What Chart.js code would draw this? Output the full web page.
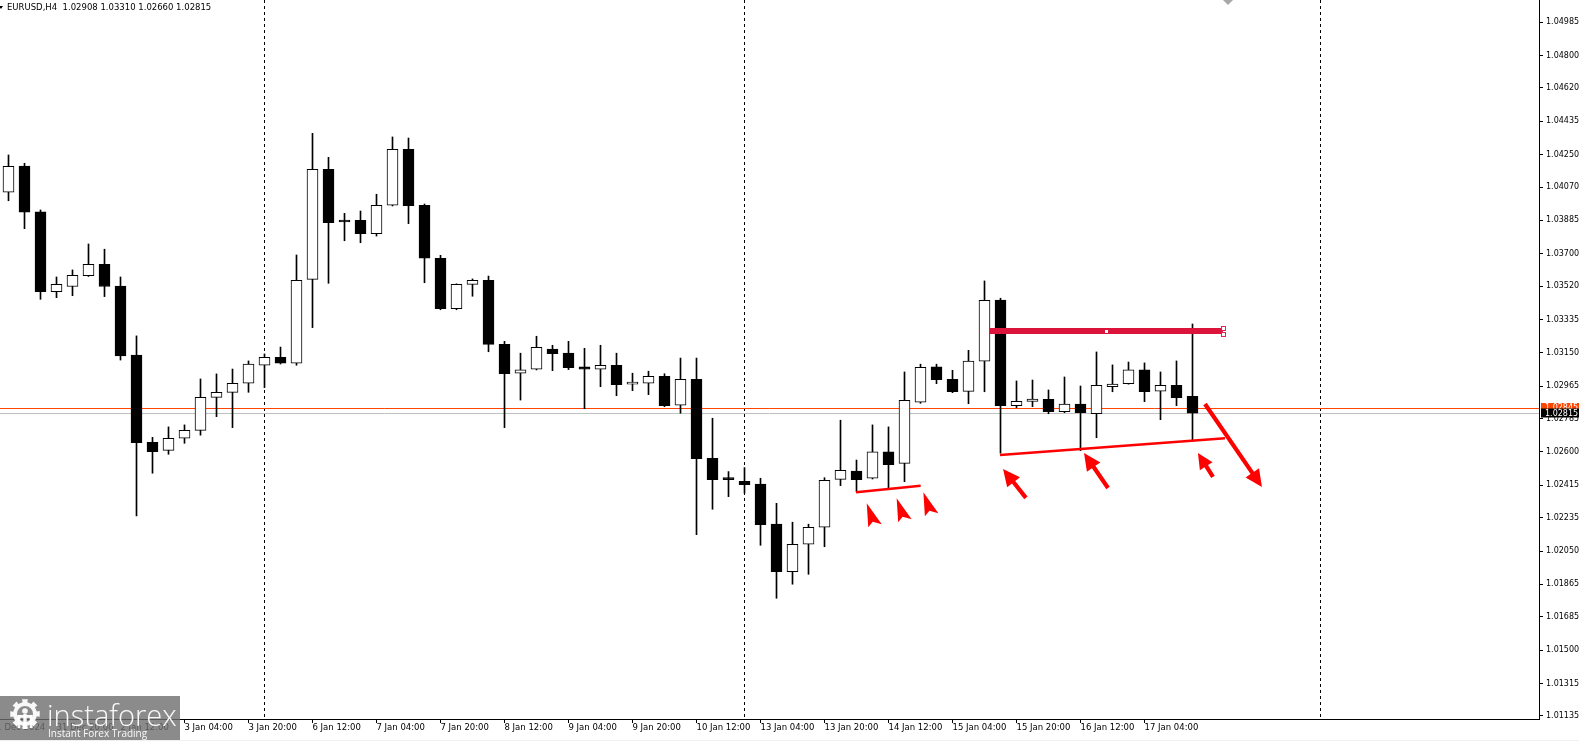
<!DOCTYPE html>
<html>
<head>
<meta charset="utf-8">
<title>EURUSD,H4</title>
<script src="https://cdn.jsdelivr.net/npm/chart.js@4.4.1/dist/chart.umd.min.js"></script>
<style>
  html, body { margin: 0; padding: 0; background: #f0f0f0; }
  #wrap { width: 1579px; height: 740px; background: #ffffff; }
  canvas { display: block; }
</style>
</head>
<body>
<div id="wrap"><canvas id="myChart" width="1579" height="740"></canvas></div>
<script>
// EURUSD H4 candles, 31 Dec 08:00 .. 17 Jan 16:00
const opens = [
  1.04041, 1.04187, 1.03932, 1.03489, 1.03518, 1.03578, 1.03641, 1.03521, 1.03138, 1.02654,
  1.02609, 1.02676, 1.02720, 1.02903, 1.02931, 1.02981, 1.03081, 1.03125, 1.03092, 1.03558,
  1.04169, 1.03887, 1.03885, 1.03811, 1.03969, 1.04280, 1.03969, 1.03675, 1.03395, 1.03530,
  1.03553, 1.03197, 1.03037, 1.03059, 1.03171, 1.03148, 1.03072, 1.03059, 1.03081, 1.02976,
  1.02981, 1.03020, 1.02859, 1.03003, 1.02565, 1.02454, 1.02437, 1.02421, 1.02199, 1.01936,
  1.02088, 1.02182, 1.02448, 1.02494, 1.02454, 1.02600, 1.02537, 1.02876, 1.03072, 1.03003,
  1.02936, 1.03104, 1.03443, 1.02857, 1.02881, 1.02892, 1.02824, 1.02865, 1.02812, 1.02962,
  1.02979, 1.03055, 1.02937, 1.02970, 1.02908
];
const highs = [
  1.04248, 1.04202, 1.03943, 1.03571, 1.03610, 1.03754, 1.03725, 1.03571, 1.03244, 1.02681,
  1.02739, 1.02750, 1.03005, 1.03033, 1.03060, 1.03105, 1.03144, 1.03182, 1.03693, 1.04368,
  1.04235, 1.03924, 1.03937, 1.04030, 1.04348, 1.04342, 1.03976, 1.03691, 1.03533, 1.03560,
  1.03576, 1.03214, 1.03148, 1.03242, 1.03192, 1.03214, 1.03175, 1.03192, 1.03148, 1.03037,
  1.03048, 1.03034, 1.03121, 1.03121, 1.02787, 1.02491, 1.02513, 1.02454, 1.02315, 1.02210,
  1.02199, 1.02457, 1.02776, 1.02555, 1.02750, 1.02739, 1.03044, 1.03087, 1.03087, 1.03053,
  1.03164, 1.03549, 1.03453, 1.02994, 1.02999, 1.02944, 1.03016, 1.02966, 1.03155, 1.03083,
  1.03099, 1.03094, 1.03044, 1.03105, 1.03310
];
const lows = [
  1.03994, 1.03839, 1.03447, 1.03456, 1.03467, 1.03574, 1.03462, 1.03110, 1.02245, 1.02482,
  1.02587, 1.02648, 1.02693, 1.02796, 1.02735, 1.02931, 1.02957, 1.03088, 1.03081, 1.03290,
  1.03536, 1.03772, 1.03761, 1.03798, 1.03965, 1.03867, 1.03539, 1.03389, 1.03389, 1.03464,
  1.03156, 1.02735, 1.02888, 1.03055, 1.03051, 1.03057, 1.02840, 1.02962, 1.02912, 1.02940,
  1.02918, 1.02851, 1.02815, 1.02141, 1.02282, 1.02352, 1.02371, 1.02082, 1.01788, 1.01866,
  1.01921, 1.02074, 1.02413, 1.02380, 1.02450, 1.02396, 1.02435, 1.02870, 1.02979, 1.02929,
  1.02868, 1.02934, 1.02593, 1.02846, 1.02851, 1.02812, 1.02818, 1.02607, 1.02679, 1.02934,
  1.02976, 1.02879, 1.02779, 1.02857, 1.02660
];
const closes = [
  1.04185, 1.03930, 1.03489, 1.03530, 1.03580, 1.03641, 1.03518, 1.03133, 1.02651, 1.02602,
  1.02676, 1.02720, 1.02903, 1.02931, 1.02981, 1.03087, 1.03125, 1.03092, 1.03553, 1.04169,
  1.03872, 1.03876, 1.03811, 1.03969, 1.04280, 1.03967, 1.03675, 1.03395, 1.03530, 1.03553,
  1.03197, 1.03034, 1.03055, 1.03181, 1.03145, 1.03068, 1.03059, 1.03081, 1.02973, 1.02987,
  1.03020, 1.02857, 1.03003, 1.02563, 1.02446, 1.02446, 1.02418, 1.02196, 1.01936, 1.02088,
  1.02182, 1.02443, 1.02498, 1.02446, 1.02600, 1.02529, 1.02887, 1.03070, 1.03001, 1.02934,
  1.03104, 1.03442, 1.02857, 1.02881, 1.02894, 1.02824, 1.02865, 1.02818, 1.02970, 1.02976,
  1.03055, 1.02934, 1.02970, 1.02901, 1.02815
];

// time axis labels (bar index -> text)
const timeTickPos = [-1.1, 3, 7, 11, 15, 19, 23, 27, 31, 35, 39, 43, 47, 51, 55, 59, 63, 67, 71];
const timeTickText = ['31 Dec 2024', '31 Dec 20:00', '2 Jan 12:00', '3 Jan 04:00', '3 Jan 20:00',
  '6 Jan 12:00', '7 Jan 04:00', '7 Jan 20:00', '8 Jan 12:00', '9 Jan 04:00', '9 Jan 20:00',
  '10 Jan 12:00', '13 Jan 04:00', '13 Jan 20:00', '14 Jan 12:00', '15 Jan 04:00', '15 Jan 20:00',
  '16 Jan 12:00', '17 Jan 04:00'];

const priceTicks = [1.04985, 1.04800, 1.04620, 1.04435, 1.04250, 1.04070, 1.03885, 1.03700,
  1.03520, 1.03335, 1.03150, 1.02965, 1.02785, 1.02600, 1.02415, 1.02235, 1.02050, 1.01865,
  1.01685, 1.01500, 1.01315, 1.01135];

const bidPrice = 1.02815;
const askPrice = 1.02845;
const weekSeparators = [16, 46, 82];

// drawn objects, in bar index / price
const levelLine = [61.3, 75.9, 1.03271];
const trendLines = [[61.97, 1.02583, 76.03, 1.02676], [52.97, 1.02376, 57.01, 1.02413]];
const pointerTips = [[53.64, 1.02315], [55.51, 1.02343], [57.18, 1.02376]];
const arrowLines = [[63.59, 1.02345, 62.16, 1.02506], [68.72, 1.02400, 67.22, 1.02594],
  [75.28, 1.02461, 74.34, 1.02594], [74.78, 1.02866, 78.34, 1.02406]];
const topMarker = [76.22, 1.05108];

const header = 'EURUSD,H4  1.02908 1.03310 1.02660 1.02815';

function drawArrow(ctx, x1, y1, x2, y2) {
  const dx = x2 - x1, dy = y2 - y1, len = Math.hypot(dx, dy);
  const ux = dx / len, uy = dy / len, nx = -uy, ny = ux;
  const head = Math.min(17, len * 0.55), hw = head * 0.48, sw = 2.1;
  const bx = x2 - ux * head, by = y2 - uy * head;
  ctx.beginPath();
  ctx.moveTo(x1 + nx * sw, y1 + ny * sw);
  ctx.lineTo(bx + nx * sw, by + ny * sw);
  ctx.lineTo(bx + nx * hw, by + ny * hw);
  ctx.lineTo(x2, y2);
  ctx.lineTo(bx - nx * hw, by - ny * hw);
  ctx.lineTo(bx - nx * sw, by - ny * sw);
  ctx.lineTo(x1 - nx * sw, y1 - ny * sw);
  ctx.closePath();
  ctx.fill();
}

function drawGear(ctx, cx, cy) {
  const teeth = 8;
  ctx.beginPath();
  for (let i = 0; i < teeth * 2; i++) {
    const a0 = i / (teeth * 2) * Math.PI * 2 - 0.2, a1 = (i + 1) / (teeth * 2) * Math.PI * 2 - 0.2;
    const r = i % 2 === 0 ? 15 : 12;
    ctx.lineTo(cx + r * Math.cos(a0), cy + r * Math.sin(a0));
    ctx.lineTo(cx + r * Math.cos(a1), cy + r * Math.sin(a1));
  }
  ctx.closePath();
  ctx.moveTo(cx + 8, cy);
  ctx.arc(cx, cy, 8, 0, Math.PI * 2, true);
  ctx.fill();
  // little figure inside the gear
  ctx.beginPath();
  ctx.arc(cx, cy - 3, 2.8, 0, Math.PI * 2);
  ctx.fill();
  ctx.fillRect(cx - 1.7, cy, 3.4, 15);
  ctx.fillRect(cx - 7.5, cy + 1, 15, 2.8);
  ctx.fillRect(cx - 7.5, cy + 1, 2.8, 13);
  ctx.fillRect(cx + 4.7, cy + 1, 2.8, 13);
}

const mt4Decor = {
  id: 'mt4Decor',
  beforeDatasetsDraw(chart) {
    const { ctx, chartArea: a, scales: { x, y } } = chart;
    ctx.save();
    ctx.beginPath();
    ctx.rect(a.left, a.top, a.width, a.height);
    ctx.clip();
    ctx.lineWidth = 1;
    ctx.strokeStyle = '#000';
    ctx.setLineDash([3, 3]);
    weekSeparators.forEach(v => {
      const px = Math.floor(x.getPixelForValue(v)) + 0.5;
      ctx.beginPath();
      ctx.moveTo(px, a.top);
      ctx.lineTo(px, a.bottom);
      ctx.stroke();
    });
    ctx.setLineDash([]);
    [[askPrice, '#ff4500'], [bidPrice, '#c0c0c0']].forEach(([p, c]) => {
      const py = Math.round(y.getPixelForValue(p)) + 0.5;
      ctx.strokeStyle = c;
      ctx.beginPath();
      ctx.moveTo(a.left, py);
      ctx.lineTo(a.right, py);
      ctx.stroke();
    });
    ctx.restore();
  },
  afterDatasetsDraw(chart) {
    const { ctx, chartArea: a, scales: { x, y } } = chart;
    ctx.save();
    ctx.beginPath();
    ctx.rect(a.left, a.top, a.width, a.height);
    ctx.clip();

    // thick level line with its handles
    const lx1 = x.getPixelForValue(levelLine[0]), lx2 = x.getPixelForValue(levelLine[1]);
    const ly = y.getPixelForValue(levelLine[2]);
    ctx.strokeStyle = '#dc143c';
    ctx.lineWidth = 6;
    ctx.beginPath();
    ctx.moveTo(lx1, ly);
    ctx.lineTo(lx2, ly);
    ctx.stroke();
    ctx.fillStyle = '#fff';
    ctx.fillRect(Math.round((lx1 + lx2) / 2) - 1, Math.round(ly) - 1, 3, 3);
    ctx.lineWidth = 1;
    ctx.strokeStyle = '#e0245a';
    [-5, 1].forEach(d => {
      ctx.fillRect(Math.round(lx2) - 1.5, Math.round(ly) + d + 0.5, 4, 4);
      ctx.strokeRect(Math.round(lx2) - 1.5, Math.round(ly) + d + 0.5, 4, 4);
    });

    ctx.strokeStyle = '#ff0000';
    ctx.fillStyle = '#ff0000';
    ctx.lineWidth = 2.5;
    trendLines.forEach(t => {
      ctx.beginPath();
      ctx.moveTo(x.getPixelForValue(t[0]), y.getPixelForValue(t[1]));
      ctx.lineTo(x.getPixelForValue(t[2]), y.getPixelForValue(t[3]));
      ctx.stroke();
    });
    pointerTips.forEach(t => {
      const px = x.getPixelForValue(t[0]), py = y.getPixelForValue(t[1]);
      ctx.beginPath();
      ctx.moveTo(px, py);
      ctx.lineTo(px + 1.5, py + 24);
      ctx.lineTo(px + 6, py + 18.5);
      ctx.lineTo(px + 15, py + 21);
      ctx.closePath();
      ctx.fill();
    });
    arrowLines.forEach(t => drawArrow(ctx,
      x.getPixelForValue(t[0]), y.getPixelForValue(t[1]),
      x.getPixelForValue(t[2]), y.getPixelForValue(t[3])));

    // grey marker cut by the top edge
    const mx = x.getPixelForValue(topMarker[0]), my = y.getPixelForValue(topMarker[1]);
    ctx.fillStyle = '#a8a8a8';
    ctx.beginPath();
    ctx.moveTo(mx - 6, my - 1);
    ctx.lineTo(mx + 6, my - 1);
    ctx.lineTo(mx, my + 5);
    ctx.closePath();
    ctx.fill();
    ctx.restore();
  },
  afterDraw(chart) {
    const { ctx, chartArea: a, scales: { y } } = chart;
    ctx.save();
    ctx.font = '8.5px "DejaVu Sans"';
    ctx.textBaseline = 'middle';

    // header
    ctx.fillStyle = '#000';
    ctx.beginPath();
    ctx.moveTo(-1, 6);
    ctx.lineTo(3, 6);
    ctx.lineTo(1, 9);
    ctx.closePath();
    ctx.fill();
    ctx.fillText(header, 7, 8);

    // price labels on the axis
    ctx.font = '8px "DejaVu Sans"';
    const ay = y.getPixelForValue(askPrice), by = y.getPixelForValue(bidPrice);
    ctx.fillStyle = '#ff4500';
    ctx.fillRect(a.right + 2, Math.round(ay) - 5, 40, 11);
    ctx.fillStyle = '#fff';
    ctx.fillText(askPrice.toFixed(5), a.right + 6, ay + 0.5);
    ctx.fillStyle = '#000';
    ctx.fillRect(a.right + 2, Math.round(by) - 4.5, 40, 9);
    ctx.fillStyle = '#fff';
    ctx.fillText(bidPrice.toFixed(5), a.right + 6, by + 0.5);

    // watermark
    ctx.fillStyle = 'rgba(110,110,110,0.8)';
    ctx.fillRect(0, 696, 180, 44);
    ctx.fillStyle = 'rgba(255,255,255,0.95)';
    drawGear(ctx, 25, 714);
    ctx.textBaseline = 'alphabetic';
    ctx.font = '300 29px "Open Sans"';
    ctx.fillText('instaforex', 47, 726);
    ctx.font = '10px "Open Sans"';
    ctx.fillText('Instant Forex Trading', 48, 737);
    ctx.restore();
  }
};

const ctx = document.getElementById('myChart');
Chart.defaults.font.family = '"DejaVu Sans"';
Chart.defaults.font.size = 8.5;
Chart.defaults.color = '#000';

new Chart(ctx, {
  type: 'bar',
  data: {
    datasets: [{
      label: 'body',
      data: opens.map((o, i) => ({ x: i, y: [o, closes[i]] })),
      backgroundColor: opens.map((o, i) => closes[i] >= o ? '#ffffff' : '#000000'),
      borderColor: '#000',
      borderWidth: 1,
      borderSkipped: false,
      barThickness: 11,
      minBarLength: 2,
      grouped: false,
      order: 0
    }, {
      label: 'wick',
      data: lows.map((l, i) => ({ x: i, y: [l, highs[i]] })),
      backgroundColor: '#000',
      borderWidth: 0,
      barThickness: 1,
      grouped: false,
      order: 1
    }]
  },
  options: {
    responsive: false,
    maintainAspectRatio: false,
    devicePixelRatio: 1,
    animation: false,
    events: [],
    layout: { padding: 0 },
    plugins: { legend: { display: false }, tooltip: { enabled: false } },
    scales: {
      x: {
        type: 'linear',
        min: -0.53125,
        max: 95.65625,
        offset: false,
        afterBuildTicks: s => { s.ticks = timeTickPos.map(v => ({ value: v })); },
        afterFit: s => { s.height = 21; s.paddingLeft = 0; s.paddingRight = 0; },
        grid: {
          drawOnChartArea: false, offset: false, tickLength: 4,
          tickColor: c => c.index === 0 ? 'rgba(0,0,0,0)' : '#000'
        },
        border: { display: true, color: '#000', width: 1 },
        ticks: {
          align: 'start', autoSkip: false, maxRotation: 0, padding: 0, color: '#000',
          callback: (v, i) => timeTickText[i]
        }
      },
      y: {
        type: 'linear',
        position: 'right',
        min: 1.01118,
        max: 1.05108,
        bounds: 'data',
        afterBuildTicks: s => { s.ticks = priceTicks.map(v => ({ value: v })); },
        afterFit: s => { s.width = 40; s.paddingTop = 0; s.paddingBottom = 0; },
        grid: { drawOnChartArea: false, tickLength: 4, tickColor: '#000' },
        border: { display: true, color: '#000', width: 1 },
        ticks: { autoSkip: false, padding: 3, color: '#000', font: { size: 8 }, callback: v => v.toFixed(5) }
      }
    }
  },
  plugins: [mt4Decor]
});
</script>
</body>
</html>
